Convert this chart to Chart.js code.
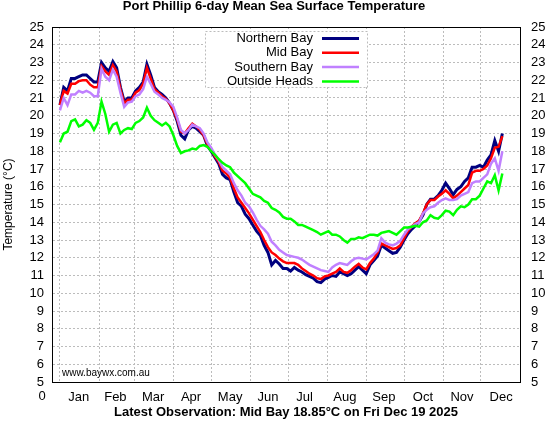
<!DOCTYPE html>
<html>
<head>
<meta charset="utf-8">
<title>Port Phillip 6-day Mean Sea Surface Temperature</title>
<script src="https://cdn.jsdelivr.net/npm/chart.js@4.4.1/dist/chart.umd.min.js"></script>
<style>
  html, body { margin: 0; padding: 0; background: #fff; }
  #wrap { width: 548px; height: 424px; }
</style>
</head>
<body>
<div id="wrap"><canvas id="sst" width="548" height="424"></canvas></div>
<script>
// day of year (0 = Jan 1), one sample every 3 days
const days = [
  0, 3, 6, 9, 12, 15, 18, 21, 24, 27,
  30, 33, 36, 39, 42, 45, 48, 51, 54, 57,
  60, 63, 66, 69, 72, 75, 78, 81, 84, 87,
  90, 93, 96, 99, 102, 105, 108, 111, 114, 117,
  120, 123, 126, 129, 132, 135, 138, 141, 144, 147,
  150, 153, 156, 159, 162, 165, 168, 171, 174, 177,
  180, 183, 186, 189, 192, 195, 198, 201, 204, 207,
  210, 213, 216, 219, 222, 225, 228, 231, 234, 237,
  240, 243, 246, 249, 252, 255, 258, 261, 264, 267,
  270, 273, 276, 279, 282, 285, 288, 291, 294, 297,
  300, 303, 306, 309, 312, 315, 318, 321, 324, 327,
  330, 333, 336, 339, 342, 345, 348, 351
];

const northernBay = [
  20.6, 21.6, 21.4, 22.1, 22.1, 22.2, 22.3, 22.3, 22.1, 21.9,
  21.9, 23.0, 22.7, 22.5, 23.05, 22.7, 21.6, 20.8, 21.0, 21.0,
  21.4, 21.6, 21.9, 22.9, 22.3, 21.6, 21.35, 21.2, 21.0, 20.7,
  20.3, 19.7, 18.9, 18.7, 19.2, 19.4, 19.3, 19.1, 18.9, 18.3,
  18.0, 17.65, 17.3, 16.7, 16.5, 16.4, 15.7, 15.1, 14.9, 14.45,
  14.2, 13.85, 13.5, 13.25, 12.7, 12.3, 11.6, 11.85, 11.65, 11.4,
  11.4, 11.25, 11.45, 11.3, 11.2, 11.05, 10.95, 10.85, 10.65, 10.6,
  10.8, 10.9, 11.0, 10.95, 11.2, 11.1, 11.0, 11.1, 11.3, 11.5,
  11.3, 11.1, 11.6, 11.85, 12.1, 12.7, 12.55, 12.4, 12.25, 12.3,
  12.6, 13.0, 13.35, 13.6, 13.8, 14.05, 14.4, 15.0, 15.3, 15.3,
  15.5, 15.8, 16.2, 15.9, 15.55, 15.85, 16.0, 16.3, 16.5, 17.1,
  17.1, 17.2, 17.1, 17.5, 17.8, 18.6, 18.0, 19.0
];

const midBay = [
  20.6, 21.4, 21.25, 21.8, 21.8, 21.95, 22.0, 22.0, 21.75, 21.6,
  21.6, 22.8, 22.5, 22.3, 22.85, 22.5, 21.5, 20.7, 20.9, 20.9,
  21.3, 21.45, 21.8, 22.7, 22.1, 21.5, 21.3, 21.1, 20.95, 20.7,
  20.3, 19.8, 19.1, 19.0, 19.3, 19.55, 19.4, 19.2, 18.9, 18.4,
  18.1, 17.7, 17.4, 16.9, 16.75, 16.5, 15.9, 15.4, 15.1, 14.8,
  14.5, 14.15, 13.8, 13.45, 13.0, 12.6, 12.3, 12.15, 11.95, 11.8,
  11.7, 11.7, 11.7, 11.6, 11.4, 11.25, 11.1, 11.0, 10.85, 10.8,
  10.95, 11.0, 11.1, 11.2, 11.4, 11.2, 11.15, 11.3, 11.5, 11.65,
  11.45, 11.35, 11.7, 11.95, 12.3, 12.8, 12.7, 12.6, 12.5, 12.55,
  12.7, 13.1, 13.5, 13.75, 13.95, 14.1, 14.5, 15.0, 15.25, 15.25,
  15.45, 15.6, 15.8, 15.6, 15.35, 15.5, 15.7, 15.9, 16.1, 16.8,
  16.9, 16.9, 17.0, 17.2, 17.6, 18.2, 18.25, 18.85
];

const southernBay = [
  20.3, 21.0, 20.6, 21.2, 21.2, 21.4, 21.3, 21.4, 21.3, 21.1,
  21.1, 22.65, 22.2, 22.0, 22.6, 22.2, 21.3, 20.5, 20.75, 20.8,
  21.1, 21.2, 21.5, 22.2, 21.8, 21.35, 21.2, 21.0, 20.9, 20.75,
  20.5, 19.9, 19.2, 19.0, 19.2, 19.5, 19.4, 19.3, 19.0, 18.5,
  18.2, 17.8, 17.5, 17.1, 16.9, 16.7, 16.2, 15.8, 15.5, 15.1,
  14.9, 14.55, 14.15, 13.8, 13.6, 13.35, 12.9, 12.7, 12.45, 12.3,
  12.15, 12.1, 12.05, 12.0, 11.9, 11.75, 11.6, 11.5, 11.4, 11.3,
  11.25, 11.2, 11.45, 11.6, 11.7, 11.65, 11.6, 11.8, 11.95, 12.0,
  11.95, 11.9, 12.05, 12.2, 12.4, 13.1, 12.85, 12.75, 12.7, 12.8,
  12.95, 13.3, 13.6, 13.75, 13.9, 14.0, 14.5, 14.7, 14.85, 14.9,
  15.1, 15.25, 15.35, 15.25, 15.25, 15.3, 15.5, 15.6, 15.7, 16.2,
  16.3, 16.3, 16.5, 16.7, 17.3, 17.6, 16.9, 18.0
];

const outsideHeads = [
  18.5, 19.0, 19.1, 19.7, 19.8, 19.4, 19.5, 19.75, 19.6, 19.2,
  19.6, 20.8, 20.1, 19.1, 19.5, 19.6, 19.0, 19.2, 19.3, 19.25,
  19.6, 19.7, 19.9, 20.45, 20.0, 19.75, 19.6, 19.45, 19.6, 19.4,
  18.9, 18.3, 17.9, 18.0, 18.05, 18.15, 18.1, 18.3, 18.35, 18.25,
  18.0, 17.8, 17.55, 17.35, 17.2, 17.1, 16.8, 16.6, 16.4, 16.2,
  15.9, 15.6, 15.5, 15.4, 15.2, 15.1, 14.8, 14.7, 14.55, 14.3,
  14.2, 14.2, 14.05, 13.85, 13.85, 13.75, 13.65, 13.55, 13.45, 13.3,
  13.4, 13.5, 13.3, 13.3, 13.2, 13.0, 12.85, 13.05, 13.05, 13.15,
  13.1, 13.2, 13.3, 13.3, 13.25, 13.4, 13.45, 13.5, 13.4, 13.3,
  13.5, 13.7, 13.7, 13.75, 13.8, 13.75, 14.0, 14.1, 14.4, 14.25,
  14.2, 14.4, 14.65, 14.6, 14.4, 14.7, 14.9, 14.85, 15.0, 15.3,
  15.3, 15.5, 15.9, 16.3, 16.2, 16.65, 15.8, 16.75
];

// grid lines sit on the first of each month, names sit mid-month
const monthStarts = [0, 31, 59, 90, 120, 151, 181, 212, 243, 273, 304, 334];
const monthLabelDays = [15, 44, 74, 104, 135, 165, 194, 226, 257, 288, 319, 350];
const monthNames = ["Jan", "Feb", "Mar", "Apr", "May", "Jun", "Jul", "Aug", "Sep", "Oct", "Nov", "Dec"];

const FONT = "'Liberation Sans', Arial, Helvetica, sans-serif";
const GRID = "#bcbcbc";

function toPoints(values) {
  return days.map(function (d, i) {
    return { x: d, y: values[i] };
  });
}

const datasets = [
  { label: "Northern Bay", data: toPoints(northernBay), borderColor: "#00007f", borderWidth: 3, order: 3 },
  { label: "Mid Bay", data: toPoints(midBay), borderColor: "#ff0000", borderWidth: 2.5, order: 2 },
  { label: "Southern Bay", data: toPoints(southernBay), borderColor: "#c080ff", borderWidth: 2.5, order: 1 },
  { label: "Outside Heads", data: toPoints(outsideHeads), borderColor: "#00ff00", borderWidth: 2.5, order: 0 }
];
datasets.forEach(function (ds) {
  ds.pointRadius = 0;
  ds.tension = 0;
  ds.fill = false;
});

// frame top, boxed legend, site name and the lone "0" tick label
const extras = {
  id: "extras",
  afterDatasetsDraw(chart) {
    const ctx = chart.ctx;
    const a = chart.chartArea;
    ctx.save();
    ctx.strokeStyle = "#000";
    ctx.lineWidth = 1;
    ctx.beginPath();
    ctx.moveTo(a.left, a.top + 0.5);
    ctx.lineTo(a.right, a.top + 0.5);
    ctx.stroke();

    ctx.fillStyle = "#000";
    ctx.textBaseline = "middle";
    ctx.textAlign = "left";
    ctx.font = "10px " + FONT;
    ctx.fillText("www.baywx.com.au", a.left + 10, a.bottom - 9);

    ctx.font = "13px " + FONT;
    ctx.textAlign = "center";
    ctx.fillText("0", a.left - 10, a.bottom + 14);

    const lx = a.left + 153, ly = a.top + 4, lw = 162, lh = 56;
    ctx.fillStyle = "#fff";
    ctx.fillRect(lx, ly, lw, lh);
    ctx.setLineDash([2, 2]);
    ctx.strokeStyle = GRID;
    ctx.strokeRect(lx + 0.5, ly + 0.5, lw, lh);
    ctx.setLineDash([]);
    chart.data.datasets.forEach(function (ds, i) {
      const y = ly + 7.5 + i * 14.3;
      ctx.fillStyle = "#000";
      ctx.textAlign = "right";
      ctx.fillText(ds.label, lx + 108, y);
      ctx.strokeStyle = ds.borderColor;
      ctx.lineWidth = ds.borderWidth;
      ctx.beginPath();
      ctx.moveTo(lx + 117, y);
      ctx.lineTo(lx + 154, y);
      ctx.stroke();
    });
    ctx.restore();
  }
};

new Chart(document.getElementById("sst"), {
  type: "line",
  data: { datasets },
  plugins: [extras],
  options: {
    responsive: false,
    animation: false,
    layout: { padding: 0 },
    plugins: {
      legend: { display: false },
      tooltip: { enabled: false },
      title: {
        display: true,
        text: "Port Phillip 6-day Mean Sea Surface Temperature",
        color: "#000",
        font: { family: FONT, size: 13, weight: "bold", lineHeight: 1 },
        padding: { top: 0, bottom: 14 }
      }
    },
    scales: {
      x: {
        type: "linear",
        min: -6.3,
        max: 365,
        afterBuildTicks(axis) {
          axis.ticks = monthStarts.concat(monthLabelDays).map(function (v) {
            return { value: v };
          });
        },
        afterFit(axis) { axis.height = 42; },
        ticks: {
          autoSkip: false,
          maxRotation: 0,
          padding: 8,
          color: "#000",
          font: { family: FONT, size: 13 },
          callback(value) {
            const i = monthLabelDays.indexOf(value);
            return i >= 0 ? monthNames[i] : "";
          }
        },
        grid: {
          drawTicks: false,
          lineWidth: 1,
          color(c) {
            return c.tick && monthStarts.includes(c.tick.value) ? GRID : "rgba(0,0,0,0)";
          }
        },
        border: { display: true, color: "#000", width: 1, dash: [2, 2] },
        title: {
          display: true,
          text: "Latest Observation: Mid Bay 18.85°C on Fri Dec 19 2025",
          color: "#000",
          font: { family: FONT, size: 13, weight: "bold" },
          padding: { top: 0, bottom: 4 }
        }
      },
      y: {
        position: "left",
        min: 5,
        max: 25,
        afterFit(axis) { axis.width = 52; },
        ticks: { stepSize: 1, autoSkip: false, padding: 8, color: "#000", font: { family: FONT, size: 13 } },
        grid: { drawTicks: false, color: GRID, lineWidth: 1 },
        border: { display: true, color: "#000", width: 1, dash: [2, 2] },
        title: {
          display: true,
          text: "Temperature (°C)",
          color: "#000",
          font: { family: FONT, size: 12 },
          padding: { top: 1, bottom: 0 }
        }
      },
      y2: {
        position: "right",
        min: 5,
        max: 25,
        afterFit(axis) { axis.width = 28; },
        ticks: { stepSize: 1, autoSkip: false, padding: 11, color: "#000", font: { family: FONT, size: 13 } },
        grid: { drawOnChartArea: false, drawTicks: false },
        border: { display: true, color: "#000", width: 1 }
      }
    }
  }
});
</script>
</body>
</html>
